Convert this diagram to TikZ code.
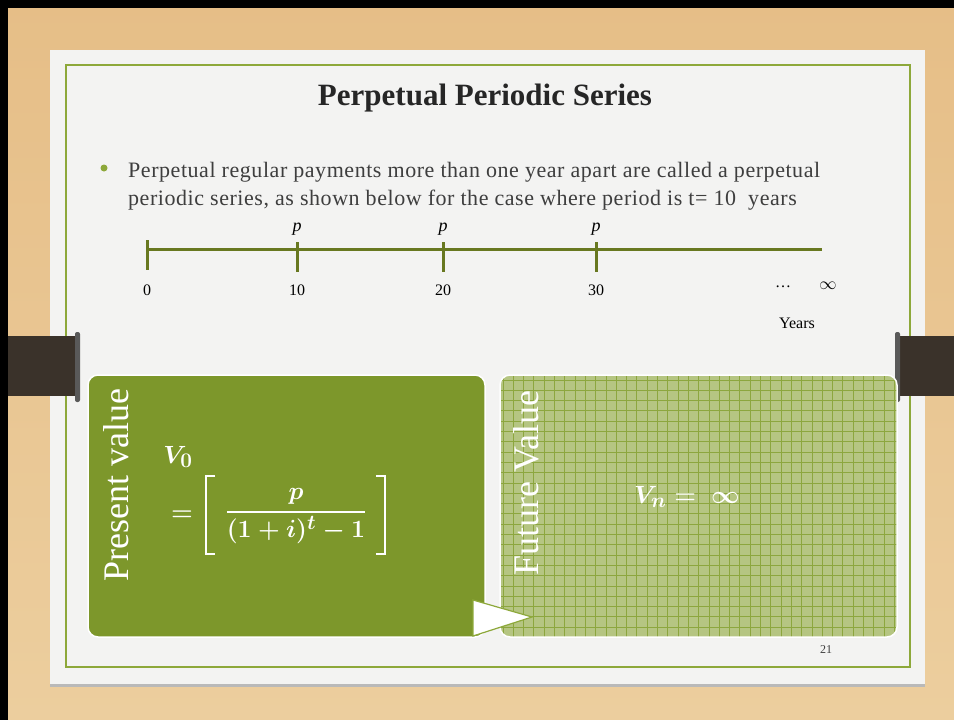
\documentclass[tikz,border=0pt]{standalone}
\usepackage{amsmath,amssymb}
\usepackage{fontspec}
\setmainfont{Liberation Serif}
\usepackage{tikz}
\usetikzlibrary{arrows.meta, positioning, calc}
\usepackage{xcolor}
\definecolor{wood}{RGB}{236,206,158}
\definecolor{woodtop}{RGB}{230,190,135}
\definecolor{paper}{RGB}{243,243,242}
\definecolor{olive}{RGB}{141,168,58}
\definecolor{darkolive}{RGB}{104,120,32}
\definecolor{boxolive}{RGB}{125,151,43}
\definecolor{lightolive}{RGB}{181,197,130}
\definecolor{gridolive}{RGB}{140,166,62}
\definecolor{tabbrown}{RGB}{58,50,42}
\definecolor{inktext}{RGB}{62,62,62}

\begin{document}
\begin{tikzpicture}[x=1pt, y=-1pt]
  \useasboundingbox (0,0) rectangle (954,720);

  % Background
  \shade[top color=woodtop, bottom color=wood] (0,0) rectangle (954,720);
  \fill[black] (0,0) rectangle (954,8);
  \fill[black] (0,0) rectangle (8,720);

  % Slide
  \fill[gray!55] (50,683) rectangle (925,687);
  \fill[paper] (50,50) rectangle (925,684);
  \draw[olive, line width=1.5pt] (66,65) rectangle (910,667);

  % Tabs
  \fill[tabbrown] (8,336) rectangle (80,396);
  \fill[gray!70!black, rounded corners=2pt] (75,332) rectangle (80,402);
  \fill[tabbrown] (897,336) rectangle (954,396);
  \fill[gray!70!black, rounded corners=2pt] (895,332) rectangle (900,402);

  % Title and bullet
  \node[font=\bfseries\fontsize{31}{36}\selectfont, text=black!85] (title) at (485,98) {Perpetual Periodic Series};
  \fill[olive] (104,168) circle (3.5);
  \node[anchor=base west, inner sep=0pt, text=inktext, font=\fontsize{22}{26}\selectfont\addfontfeatures{LetterSpace=2.5}] (line1) at (128,177) {Perpetual regular payments more than one year apart are called a perpetual};
  \node[anchor=base west, inner sep=0pt, text=inktext, font=\fontsize{22}{26}\selectfont\addfontfeatures{LetterSpace=2.5}] (line2) at (128,205) {periodic series, as shown below for the case where period is t= 10\ \ years};

  % Time line
  \coordinate (t0) at (147,249);
  \coordinate (tend) at (822,249);
  \draw[darkolive, line width=3pt] (t0) -- (tend);
  \draw[darkolive, line width=3pt] (147,240) -- (147,270);
  \node[font=\fontsize{16}{18}\selectfont] (n0) at (147,290) {0};
  \foreach \x/\yr in {297/10, 443/20, 596/30} {
    \draw[darkolive, line width=3pt] (\x,242) -- (\x,272);
    \node[font=\itshape\fontsize{18}{20}\selectfont] (p\yr) at (\x,229) {p};
    \node[font=\fontsize{16}{18}\selectfont] (n\yr) at (\x,290) {\yr};
  }
  \node[font=\fontsize{16}{18}\selectfont] (dots) at (783,287) {\dots};
  \node[font=\fontsize{16}{18}\selectfont] (inf) at (828,286) {$\infty$};
  \node[font=\fontsize{16}{18}\selectfont] (years) at (797,323) {Years};

  % Present value box
  \draw[white, line width=1.5pt, fill=boxolive, rounded corners=10pt] (88,375) rectangle (485,637);
  \node[rotate=90, text=white, font=\fontsize{36}{40}\selectfont] (pvlabel) at (116,485) {Present value};
  \node[text=white, font=\fontsize{29}{34}\selectfont] (vzero) at (178,457) {$\boldsymbol{V_0}$};
  \node[text=white, font=\fontsize{30}{34}\selectfont] (eqsign) at (182,516) {$\boldsymbol{=}$};
  \node[text=white, font=\fontsize{31}{36}\selectfont] (pfrac) at (296,516) {$\displaystyle\boldsymbol{\frac{p}{(1+i)^t-1}}$};
  \draw[white, line width=2.6pt] (215,476) -- (206,476) -- (206,554) -- (215,554);
  \draw[white, line width=2.6pt] (376,476) -- (385,476) -- (385,554) -- (376,554);

  % Future value box
  \fill[lightolive, rounded corners=10pt] (500,375) rectangle (897,637);
  \begin{scope}
    \clip[rounded corners=10pt] (500,375) rectangle (897,637);
    \foreach \gx in {503,513.3,...,897} \draw[gridolive, line width=0.9pt] (\gx,375) -- (\gx,637);
    \foreach \gy in {380,390.3,...,637} \draw[gridolive, line width=0.9pt] (500,\gy) -- (897,\gy);
  \end{scope}
  \draw[white, line width=1.5pt, rounded corners=10pt] (500,375) rectangle (897,637);
  \node[rotate=90, text=white, font=\fontsize{36}{40}\selectfont] (fvlabel) at (526,483) {Future Value};
  \node[text=white, font=\fontsize{29}{34}\selectfont] (vn) at (687,497) {$\boldsymbol{V_n =\ \infty}$};

  % Arrow
  \draw[olive, line width=1.2pt, fill=white, line join=miter] (473,600) -- (532,617) -- (473,636) -- cycle;

  % Page number
  \node[text=inktext, font=\fontsize{12}{14}\selectfont] (pagenum) at (826,650) {21};
\end{tikzpicture}
\end{document}
